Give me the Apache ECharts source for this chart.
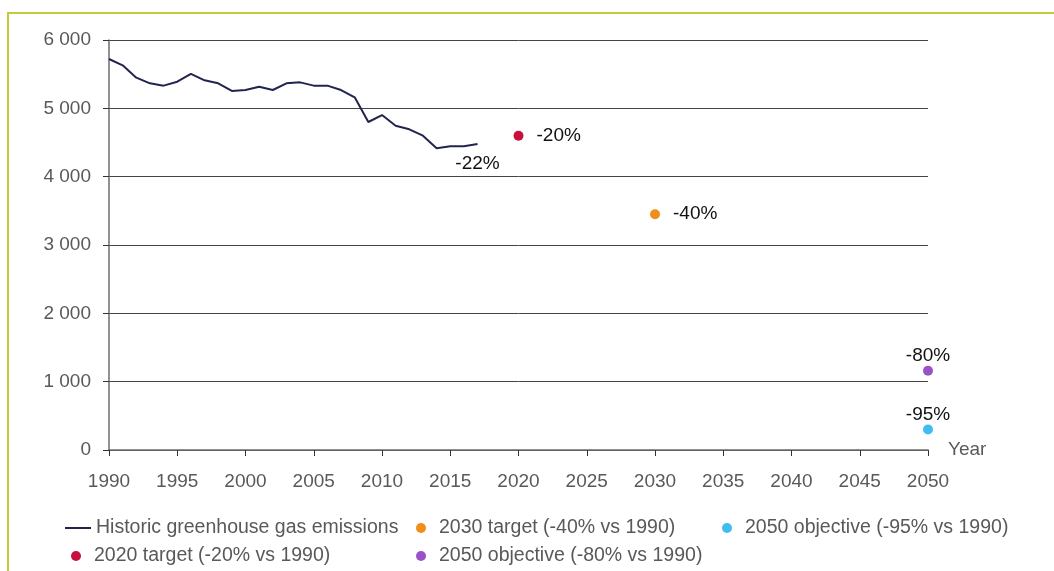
<!DOCTYPE html>
<html>
<head>
<meta charset="utf-8">
<script src="https://cdn.jsdelivr.net/npm/echarts@6/dist/echarts.min.js"></script>
<style>
  html, body { margin: 0; padding: 0; background: #fff; }
  #frame { position: absolute; left: 7px; top: 12px; right: -2px; bottom: -2px; border: 2px solid #c5c93c; }
  #chart { width: 1054px; height: 571px; }
</style>
</head>
<body>
<div id="frame"></div>
<div id="chart"></div>
<script>
// historic emissions
const years = [1990, 1991, 1992, 1993, 1994, 1995, 1996, 1997, 1998, 1999,
  2000, 2001, 2002, 2003, 2004, 2005, 2006, 2007, 2008, 2009,
  2010, 2011, 2012, 2013, 2014, 2015, 2016, 2017]
const emissions = [5722, 5629, 5449, 5366, 5332, 5390, 5503, 5410, 5366, 5254,
  5268, 5317, 5268, 5366, 5380, 5332, 5332, 5268, 5161, 4800,
  4902, 4746, 4693, 4600, 4415, 4444, 4444, 4478]

// targets
const targetNames = ['2020 target (-20% vs 1990)', '2030 target (-40% vs 1990)',
  '2050 objective (-80% vs 1990)', '2050 objective (-95% vs 1990)']
const targetYears = [2020, 2030, 2050, 2050]
const targetValues = [4600, 3450, 1160, 300]
const targetLabels = ['-20%', '-40%', '-80%', '-95%']
const targetColors = ['#c8103c', '#ee8f1b', '#9a52c8', '#3fbdf0']
const targetLabelPos = ['right', 'right', 'top', 'top']

const historicName = 'Historic greenhouse gas emissions'
const historicLabel = '-22%'

const font = 'Liberation Sans'
const lineData = years.map((y, i) => [y, emissions[i]])
lineData[lineData.length - 1] = {
  value: [years[years.length - 1], emissions[emissions.length - 1]],
  label: { show: true, position: 'bottom', distance: 10, formatter: historicLabel, color: '#111', fontSize: 19, fontFamily: font }
}

const series = [{
  name: historicName,
  type: 'line',
  data: lineData,
  symbol: 'circle',
  symbolSize: 0,
  showSymbol: true,
  lineStyle: { color: '#22244f', width: 2 },
  itemStyle: { color: '#22244f' },
  z: 3
}]
targetNames.forEach((n, i) => {
  series.push({
    name: n,
    type: 'scatter',
    data: [[targetYears[i], targetValues[i]]],
    symbolSize: 10,
    itemStyle: { color: targetColors[i], opacity: 1 },
    label: {
      show: true, position: targetLabelPos[i], distance: targetLabelPos[i] === 'right' ? 13 : 0,
      formatter: targetLabels[i], color: '#111', fontSize: 19, fontFamily: font
    },
    z: 4
  })
})

// one legend per entry so they sit in the same grid as the picture
function legendAt (left, top, name, icon) {
  return {
    left: left,
    top: top,
    itemWidth: 26,
    itemHeight: 10,
    itemGap: 0,
    textStyle: { color: '#595959', fontSize: 19.5, fontFamily: font },
    selectedMode: false,
    data: [{ name: name, icon: icon }]
  }
}

const chart = echarts.init(document.getElementById('chart'), null, { renderer: 'canvas' })
chart.setOption({
  animation: false,
  grid: { left: 109, right: 126, top: 40, bottom: 121 },
  xAxis: {
    type: 'value', min: 1990, max: 2050, interval: 5,
    name: 'Year', nameLocation: 'end', nameGap: 20,
    nameTextStyle: { color: '#595959', fontSize: 19, fontFamily: font, verticalAlign: 'middle', padding: [4, 0, 0, 0] },
    axisLine: { lineStyle: { color: '#6e6e6e', width: 1.5 } },
    axisTick: { show: true, length: 6, lineStyle: { color: '#333' } },
    axisLabel: { color: '#595959', fontSize: 19, fontFamily: font, margin: 22, formatter: v => String(v) },
    splitLine: { show: false }
  },
  yAxis: {
    type: 'value', min: 0, max: 6000, interval: 1000,
    axisLine: { show: true, lineStyle: { color: '#6e6e6e', width: 1.5 } },
    axisTick: { show: true, length: 6, lineStyle: { color: '#333' } },
    axisLabel: {
      color: '#595959', fontSize: 19, fontFamily: font, margin: 18,
      formatter: v => String(v).replace(/\B(?=(\d{3})+(?!\d))/g, ' ')
    },
    splitLine: { show: true, lineStyle: { color: '#444', width: 1 } }
  },
  legend: [
    legendAt(60, 513, historicName, 'path://M0,4h26v2h-26z'),
    legendAt(66, 541, targetNames[0], 'circle'),
    legendAt(411, 513, targetNames[1], 'circle'),
    legendAt(411, 541, targetNames[2], 'circle'),
    legendAt(717, 513, targetNames[3], 'circle')
  ],
  series: series
})
</script>
</body>
</html>
